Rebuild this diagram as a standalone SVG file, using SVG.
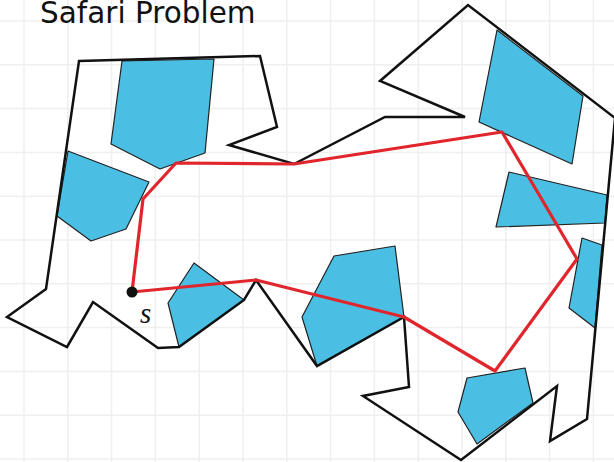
<svg xmlns="http://www.w3.org/2000/svg" width="614" height="462" viewBox="0 0 614 462">
<style>
.grid line{stroke:#efefef;stroke-width:1.5}
.title{font-family:"DejaVu Sans",sans-serif;font-size:29.5px;fill:#111}
.obs{fill:#4bbfe3;stroke:#222;stroke-width:1.2;stroke-linejoin:round}
.bound{fill:none;stroke:#111;stroke-width:2.5;stroke-linejoin:miter}
.path{fill:none;stroke:#e0262c;stroke-width:3.2;stroke-linejoin:round}
.lbl{font-family:"Liberation Serif",serif;font-style:italic;font-size:29px;fill:#111}
</style>
<rect width="614" height="462" fill="#fff"/>
<g class="grid">
<line x1="24" y1="0" x2="24" y2="462"/><line x1="67.8" y1="0" x2="67.8" y2="462"/><line x1="111.6" y1="0" x2="111.6" y2="462"/><line x1="155.4" y1="0" x2="155.4" y2="462"/><line x1="199.2" y1="0" x2="199.2" y2="462"/><line x1="243" y1="0" x2="243" y2="462"/><line x1="286.8" y1="0" x2="286.8" y2="462"/><line x1="330.6" y1="0" x2="330.6" y2="462"/><line x1="374.4" y1="0" x2="374.4" y2="462"/><line x1="418.2" y1="0" x2="418.2" y2="462"/><line x1="462" y1="0" x2="462" y2="462"/><line x1="505.8" y1="0" x2="505.8" y2="462"/><line x1="549.6" y1="0" x2="549.6" y2="462"/><line x1="593.4" y1="0" x2="593.4" y2="462"/>
<line x1="0" y1="21" x2="614" y2="21"/><line x1="0" y1="64.8" x2="614" y2="64.8"/><line x1="0" y1="108.6" x2="614" y2="108.6"/><line x1="0" y1="152.4" x2="614" y2="152.4"/><line x1="0" y1="196.2" x2="614" y2="196.2"/><line x1="0" y1="240" x2="614" y2="240"/><line x1="0" y1="283.8" x2="614" y2="283.8"/><line x1="0" y1="327.6" x2="614" y2="327.6"/><line x1="0" y1="371.4" x2="614" y2="371.4"/><line x1="0" y1="415.2" x2="614" y2="415.2"/><line x1="0" y1="459" x2="614" y2="459"/>
</g>
<text class="title" x="40" y="23">Safari Problem</text>
<g id="obstacles">
<polygon id="obs1" class="obs" points="122,61 214,59 205,153 160,169 111,144"/>
<polygon id="obs2" class="obs" points="68,151 149,182 126,229 91,241 57,216"/>
<polygon id="obs3" class="obs" points="194,263 244,300 179,347 168,303"/>
<polygon id="obs4" class="obs" points="334,256 395,246 404,317 317,366 302,317"/>
<polygon id="obs5" class="obs" points="497,30 583,96 572,164 479,122"/>
<polygon id="obs6" class="obs" points="509,172 607,195 605,223 496,227"/>
<polygon id="obs7" class="obs" points="582,238 602,245 595,328 569,308"/>
<polygon id="obs8" class="obs" points="467,378 525,368 533,403 477,444 458,412"/>
</g>
<g id="boundary">
<polygon class="bound" points="79,61 260,56 277,127 229,145 294,164 385,117 465,117 380,81 468,5 615,118 587,419 550,441 557,386 461,460 363,396 409,387 404,317 317,366 256,280 244,300 179,347 158,348 93,302 67,347 7,317 46,289"/>
</g>
<g id="connectors">
<polyline class="path" points="132,292 256,280 404,317 495,371 577,259 502,132 294,164 176,163 143,199 132,292"/>
</g>
<g id="s">
<circle cx="132" cy="292" r="5.5" fill="#111"/>
<text class="lbl" x="140" y="323">s</text>
</g>
</svg>
